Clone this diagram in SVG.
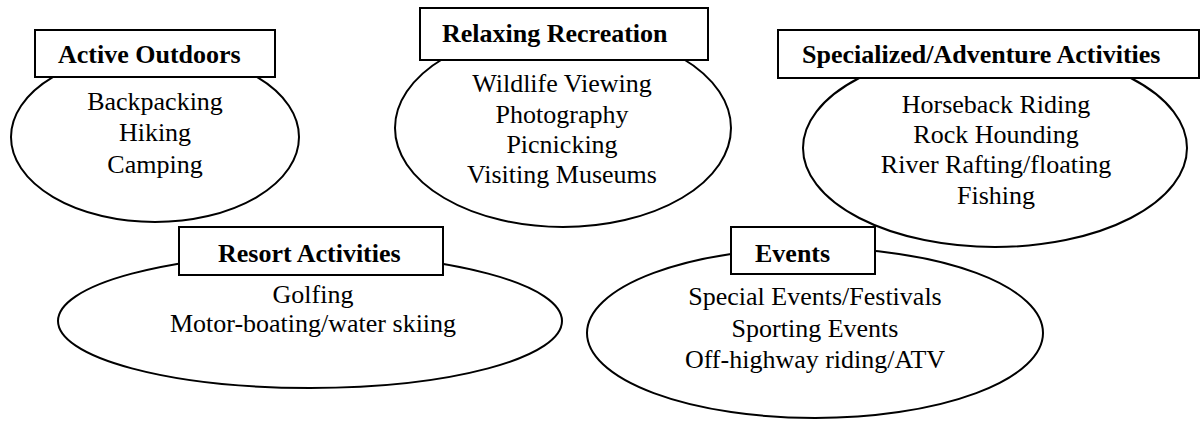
<svg xmlns="http://www.w3.org/2000/svg" width="1201" height="438" viewBox="0 0 1201 438">
<style>
.ell{fill:#fff;stroke:#000;stroke-width:2}
.box{fill:#fff;stroke:#000;stroke-width:2}
.t{font-family:"Liberation Serif","Times New Roman",serif;font-size:26px;fill:#000;text-anchor:middle}
.h{font-family:"Liberation Serif","Times New Roman",serif;font-size:26px;font-weight:bold;fill:#000}
</style>
<rect width="1201" height="438" fill="#fff"/>
<g id="connectors"></g>
<g id="active-outdoors">
<ellipse class="ell" cx="155" cy="137" rx="144" ry="85"/>
<rect class="box" x="35" y="30" width="240" height="47"/>
<text class="h" x="58" y="63">Active Outdoors</text>
<text class="t" x="155" y="110">Backpacking</text>
<text class="t" x="155" y="141">Hiking</text>
<text class="t" x="155" y="173">Camping</text>
</g>
<g id="relaxing-recreation">
<ellipse class="ell" cx="563" cy="128" rx="168" ry="99"/>
<rect class="box" x="420" y="8" width="288" height="52"/>
<text class="h" x="442" y="42">Relaxing Recreation</text>
<text class="t" x="562" y="92">Wildlife Viewing</text>
<text class="t" x="562" y="123">Photography</text>
<text class="t" x="562" y="153">Picnicking</text>
<text class="t" x="562" y="183">Visiting Museums</text>
</g>
<g id="specialized-adventure">
<ellipse class="ell" cx="995" cy="148" rx="192" ry="99"/>
<rect class="box" x="778" y="30" width="421" height="48"/>
<text class="h" x="802" y="63">Specialized/Adventure Activities</text>
<text class="t" x="996" y="113">Horseback Riding</text>
<text class="t" x="996" y="143">Rock Hounding</text>
<text class="t" x="996" y="173">River Rafting/floating</text>
<text class="t" x="996" y="204">Fishing</text>
</g>
<g id="resort-activities">
<ellipse class="ell" cx="310" cy="321" rx="252" ry="67"/>
<rect class="box" x="179" y="227" width="264" height="48"/>
<text class="h" x="218" y="262">Resort Activities</text>
<text class="t" x="313" y="303">Golfing</text>
<text class="t" x="313" y="332">Motor-boating/water skiing</text>
</g>
<g id="events">
<ellipse class="ell" cx="815" cy="333" rx="228" ry="85"/>
<rect class="box" x="731" y="227" width="144" height="47"/>
<text class="h" x="755" y="262">Events</text>
<text class="t" x="815" y="305">Special Events/Festivals</text>
<text class="t" x="815" y="337">Sporting Events</text>
<text class="t" x="815" y="368">Off-highway riding/ATV</text>
</g>
</svg>
